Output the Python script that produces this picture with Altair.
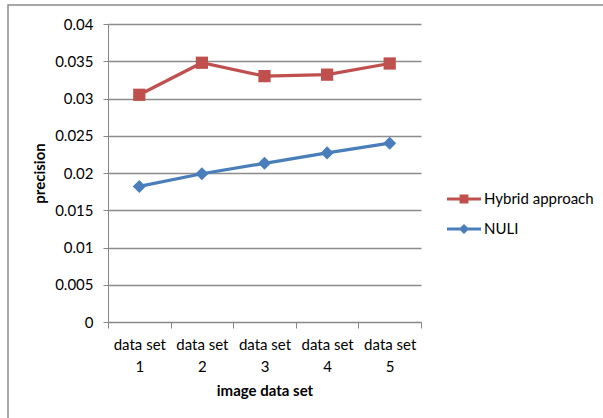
import altair as alt
import pandas as pd

# Categories and precision values for each approach
datasets = ["data set 1", "data set 2", "data set 3", "data set 4", "data set 5"]
hybrid = [0.0305, 0.0348, 0.0330, 0.0332, 0.0347]
nuli = [0.0182, 0.0199, 0.0213, 0.0227, 0.0240]
series = ["Hybrid approach", "NULI"]
colors = ["#C0504D", "#4A7EBB"]
markers = ["square", "diamond"]
marker_sizes = [150, 170]
y_ticks = [0, 0.005, 0.01, 0.015, 0.02, 0.025, 0.03, 0.035, 0.04]

df = pd.DataFrame(
    {
        "dataset": datasets * 2,
        "precision": hybrid + nuli,
        "series": [series[0]] * len(datasets) + [series[1]] * len(datasets),
    }
)

FONT = "Lato"
FS = 15

# Legend glyphs: a short bar with the series marker in its middle
LEG_SQUARE = "M-1,-0.09H1V0.09H-1ZM-0.26,-0.26H0.26V0.26H-0.26Z"
LEG_DIAMOND = "M-1,-0.09H1V0.09H-1ZM0,-0.3L0.3,0L0,0.3L-0.3,0Z"

x_enc = alt.X(
    "dataset:N",
    sort=datasets,
    bandPosition=0.5,
    scale=alt.Scale(type="band", paddingInner=0, paddingOuter=0),
    axis=alt.Axis(
        title="image data set",
        tickBand="extent",
        labelAngle=0,
        labelExpr="datum.label ? ['data set', substring(datum.label, 9)] : ''",
        labelLineHeight=22,
        labelPadding=9,
        labelFontSize=FS,
        labelFont=FONT,
        labelColor="#000000",
        titleFont=FONT,
        titleFontSize=FS,
        titleFontWeight="bold",
        titleColor="#000000",
        titlePadding=9,
        domainColor="#868686",
        tickColor="#868686",
        tickSize=6,
        grid=False,
    ),
)

y_enc = alt.Y(
    "precision:Q",
    scale=alt.Scale(domain=[0, 0.04], nice=False, zero=True),
    axis=alt.Axis(
        title="precision",
        values=y_ticks,
        format="~g",
        labelFontSize=FS,
        labelFont=FONT,
        labelColor="#000000",
        labelPadding=10,
        titleFont=FONT,
        titleFontSize=FS,
        titleFontWeight="bold",
        titleColor="#000000",
        titlePadding=7,
        domainColor="#868686",
        tickColor="#868686",
        tickSize=5,
        gridColor="#8c8c8c",
        gridWidth=1.3,
    ),
)

color_scale = alt.Scale(domain=series, range=colors)

legend = alt.Legend(
    title=None,
    orient="none",
    legendX=339,
    legendY=158,
    rowPadding=5,
    labelFont=FONT,
    labelFontSize=FS,
    labelColor="#000000",
    labelOffset=3,
    symbolSize=1156,
    symbolOpacity=1,
    symbolStrokeWidth=0,
)

# One line and one marker layer per series
series_layers = []
for name, shape, col, size in zip(series, markers, colors, marker_sizes):
    base = alt.Chart(df).transform_filter(alt.datum.series == name)
    series_layers.append(base.mark_line(strokeWidth=3.2, color=col).encode(x=x_enc, y=y_enc))
    series_layers.append(
        base.mark_point(filled=True, opacity=1, size=size, shape=shape, color=col).encode(
            x=x_enc, y=y_enc
        )
    )

# Invisible layer that only supplies the legend entries
legend_layer = alt.Chart(df).mark_point(filled=True, opacity=0).encode(
    x=x_enc,
    y=y_enc,
    color=alt.Color("series:N", sort=series, scale=color_scale, legend=legend),
    shape=alt.Shape(
        "series:N",
        sort=series,
        scale=alt.Scale(domain=series, range=[LEG_SQUARE, LEG_DIAMOND]),
        legend=legend,
    ),
)

# Thin grey frame around the whole figure
frame = alt.Chart(pd.DataFrame({"k": [0]})).mark_rect(
    fill=None, stroke="#8a8a8a", strokeWidth=1.5, clip=False
).encode(
    x=alt.value(-100), x2=alt.value(600), y=alt.value(-19), y2=alt.value(500)
)

chart = (
    alt.layer(frame, *series_layers, legend_layer)
    .properties(
        width=313,
        height=298,
        padding={"left": 108, "top": 24, "right": 182, "bottom": 96},
        autosize=alt.AutoSizeParams(type="none"),
        background="#ffffff",
    )
    .configure_view(stroke=None)
)

chart.save("out.html", embed_options={"renderer": "svg", "actions": False})
